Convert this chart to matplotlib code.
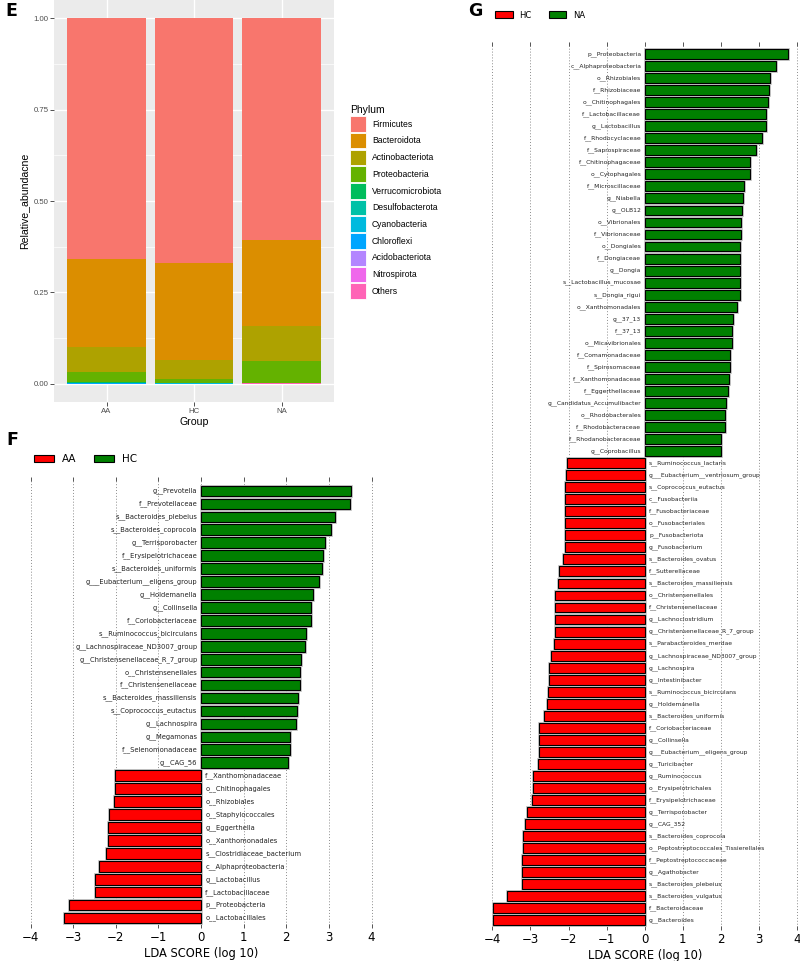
import numpy as np
import matplotlib
matplotlib.use('Agg')
import matplotlib.pyplot as plt
from matplotlib.patches import Patch
import matplotlib.patheffects as pe
from matplotlib.transforms import offset_copy

# ---------------- Panel E data ----------------
groups = ['AA', 'HC', 'NA']
phyla = ['Firmicutes', 'Bacteroidota', 'Actinobacteriota', 'Proteobacteria',
         'Verrucomicrobiota', 'Desulfobacterota', 'Cyanobacteria', 'Chloroflexi',
         'Acidobacteriota', 'Nitrospirota', 'Others']
abund_AA = [0.659, 0.240, 0.069, 0.027, 0.003, 0.001, 0.0003, 0.0001, 0.0001, 0.0001, 0.0004]
abund_HC = [0.671, 0.265, 0.050, 0.012, 0.0008, 0.0004, 0.0002, 0.0001, 0.0001, 0.0001, 0.0003]
abund_NA = [0.606, 0.237, 0.094, 0.060, 0.0005, 0.0003, 0.0002, 0.0002, 0.0001, 0.0002, 0.0015]
phylum_colors = ['#F8766D', '#DB8E00', '#AEA200', '#64B200', '#00BD5C', '#00C1A7',
                 '#00BADE', '#00A6FF', '#B385FF', '#EF67EB', '#FF63B6']

# ---------------- Panel F data (AA vs HC) ----------------
f_hc_taxa = ['g__Prevotella', 'f__Prevotellaceae', 's__Bacteroides_plebeius',
             's__Bacteroides_coprocola', 'g__Terrisporobacter', 'f__Erysipelotrichaceae',
             's__Bacteroides_uniformis', 'g___Eubacterium__eligens_group', 'g__Holdemanella',
             'g__Collinsella', 'f__Coriobacteriaceae', 's__Ruminococcus_bicirculans',
             'g__Lachnospiraceae_ND3007_group', 'g__Christensenellaceae_R_7_group',
             'o__Christensenellales', 'f__Christensenellaceae', 's__Bacteroides_massiliensis',
             's__Coprococcus_eutactus', 'g__Lachnospira', 'g__Megamonas',
             'f__Selenomonadaceae', 'g__CAG_56']
f_hc_scores = [3.51, 3.49, 3.15, 3.06, 2.92, 2.86, 2.85, 2.77, 2.63, 2.59, 2.59, 2.46,
               2.45, 2.34, 2.33, 2.33, 2.27, 2.25, 2.23, 2.09, 2.09, 2.04]
f_aa_taxa = ['f__Xanthomonadaceae', 'o__Chitinophagales', 'o__Rhizobiales',
             'o__Staphylococcales', 'g__Eggerthella', 'o__Xanthomonadales',
             's__Clostridiaceae_bacterium', 'c__Alphaproteobacteria', 'g__Lactobacillus',
             'f__Lactobacillaceae', 'p__Proteobacteria', 'o__Lactobacillales']
f_aa_scores = [-2.02, -2.02, -2.05, -2.16, -2.18, -2.18, -2.23, -2.40, -2.49, -2.49,
               -3.09, -3.21]

# ---------------- Panel G data (HC vs NA) ----------------
g_na_taxa = ['p__Proteobacteria', 'c__Alphaproteobacteria', 'o__Rhizobiales',
             'f__Rhizobiaceae', 'o__Chitinophagales', 'f__Lactobacillaceae',
             'g__Lactobacillus', 'f__Rhodocyclaceae', 'f__Saprospiraceae',
             'f__Chitinophagaceae', 'o__Cytophagales', 'f__Microscillaceae', 'g__Niabella',
             'g__OLB12', 'o__Vibrionales', 'f__Vibrionaceae', 'o__Dongiales',
             'f__Dongiaceae', 'g__Dongia', 's__Lactobacillus_mucosae', 's__Dongia_rigui',
             'o__Xanthomonadales', 'g__37_13', 'f__37_13', 'o__Micavibrionales',
             'f__Comamonadaceae', 'f__Spirosomaceae', 'f__Xanthomonadaceae',
             'f__Eggerthellaceae', 'g__Candidatus_Accumulibacter', 'o__Rhodobacterales',
             'f__Rhodobacteraceae', 'f__Rhodanobacteraceae', 'g__Coprobacillus']
g_na_scores = [3.75, 3.44, 3.28, 3.26, 3.25, 3.19, 3.19, 3.08, 2.91, 2.77, 2.77, 2.61,
               2.59, 2.56, 2.54, 2.54, 2.51, 2.51, 2.51, 2.51, 2.49, 2.42, 2.32, 2.29,
               2.28, 2.25, 2.25, 2.21, 2.20, 2.14, 2.10, 2.10, 2.01, 2.01]
g_hc_taxa = ['s__Ruminococcus_lactaris', 'g___Eubacterium__ventriosum_group',
             's__Coprococcus_eutactus', 'c__Fusobacteriia', 'f__Fusobacteriaceae',
             'o__Fusobacteriales', 'p__Fusobacteriota', 'g__Fusobacterium',
             's__Bacteroides_ovatus', 'f__Sutterellaceae', 's__Bacteroides_massiliensis',
             'o__Christensenellales', 'f__Christensenellaceae', 'g__Lachnoclostridium',
             'g__Christensenellaceae_R_7_group', 's__Parabacteroides_merdae',
             'g__Lachnospiraceae_ND3007_group', 'g__Lachnospira', 'g__Intestinibacter',
             's__Ruminococcus_bicirculans', 'g__Holdemanella', 's__Bacteroides_uniformis',
             'f__Coriobacteriaceae', 'g__Collinsella', 'g___Eubacterium__eligens_group',
             'g__Turicibacter', 'g__Ruminococcus', 'o__Erysipelotrichales',
             'f__Erysipelotrichaceae', 'g__Terrisporobacter', 'g__CAG_352',
             's__Bacteroides_coprocola', 'o__Peptostreptococcales_Tissierellales',
             'f__Peptostreptococcaceae', 'g__Agathobacter', 's__Bacteroides_plebeius',
             's__Bacteroides_vulgatus', 'f__Bacteroidaceae', 'g__Bacteroides']
g_hc_scores = [-2.05, -2.07, -2.08, -2.10, -2.10, -2.10, -2.10, -2.10, -2.15, -2.24,
               -2.28, -2.35, -2.35, -2.35, -2.35, -2.39, -2.47, -2.50, -2.52, -2.53,
               -2.57, -2.65, -2.77, -2.77, -2.78, -2.80, -2.93, -2.93, -2.95, -3.08,
               -3.15, -3.19, -3.19, -3.21, -3.21, -3.22, -3.62, -3.99, -3.99]

W, H = 800, 961
fig = plt.figure(figsize=(W / 100, H / 100), dpi=100)


def fig_rect(x0, y0, x1, y1):
    """pixel box (top-left origin) -> figure fraction rect"""
    return [x0 / W, 1 - y1 / H, (x1 - x0) / W, (y1 - y0) / H]


# ================= Panel E =================
axE = fig.add_axes(fig_rect(54, 0, 334, 402))
axE.set_facecolor('#EBEBEB')
data = np.array([abund_AA, abund_HC, abund_NA])  # groups x phyla
xpos = np.arange(1, len(groups) + 1)
bottom = np.zeros(len(groups))
for j in range(len(phyla) - 1, -1, -1):
    axE.bar(xpos, data[:, j], width=0.9, bottom=bottom, color=phylum_colors[j],
            edgecolor='none', zorder=3)
    bottom = bottom + data[:, j]
axE.set_xlim(0.4, 3.6)
axE.set_ylim(-0.05, 1.05)
axE.set_yticks([0, 0.25, 0.5, 0.75, 1.0])
axE.set_yticklabels(['0.00', '0.25', '0.50', '0.75', '1.00'])
axE.set_yticks([0.125, 0.375, 0.625, 0.875], minor=True)
axE.set_xticks(xpos)
axE.set_xticklabels(groups)
axE.grid(which='major', color='white', lw=1.0, zorder=0)
axE.grid(which='minor', axis='y', color='white', lw=0.5, zorder=0)
for s in axE.spines.values():
    s.set_visible(False)
axE.tick_params(axis='both', which='major', length=2.6, width=0.6, color='#333333',
                labelcolor='#4D4D4D', labelsize=5.6, pad=1.5)
axE.tick_params(axis='y', which='minor', length=0)
for t in axE.get_xticklabels() + axE.get_yticklabels():
    t.set_family('Liberation Sans')
axE.set_ylabel('Relative_abundacne', fontsize=7.6, family='Liberation Sans')
axE.yaxis.set_label_coords(-0.089, 0.5)
axE.set_xlabel('Group', fontsize=7.6, family='Liberation Sans')
axE.xaxis.set_label_coords(0.5, -0.037)

handlesE = [Patch(facecolor=c, edgecolor='white', lw=0.6, label=p)
            for p, c in zip(phyla, phylum_colors)]
legE = fig.legend(handles=handlesE, title='Phylum', loc='upper left',
                  bbox_to_anchor=(350 / W, 1 - 105 / H), bbox_transform=fig.transFigure,
                  frameon=False, title_fontsize=7.5, handlelength=1.85,
                  handleheight=2.43, labelspacing=0.12, handletextpad=0.7,
                  borderpad=0, borderaxespad=0, alignment='left',
                  prop={'family': 'Liberation Sans', 'size': 6.2})
legE.get_title().set_family('Liberation Sans')


# ================= LEfSe panels =================
def lefse(ax, taxa, scores, colors, label_fs, ymin, ymax):
    y = np.arange(len(taxa))
    bars = ax.barh(y, scores, height=0.82, color=colors, edgecolor='black',
                   linewidth=0.8, zorder=3)
    for b in bars:
        b.set_path_effects([pe.Stroke(linewidth=2.0, foreground='#c4c4c4'), pe.Normal()])
    tr_pos = offset_copy(ax.transData, fig=fig, x=-3.6, y=0, units='dots')
    tr_neg = offset_copy(ax.transData, fig=fig, x=4.3, y=0, units='dots')
    for yi, t, s in zip(y, taxa, scores):
        if s > 0:
            ax.text(0, yi, t, ha='right', va='center', fontsize=label_fs,
                    color='#222222', transform=tr_pos)
        else:
            ax.text(0, yi, t, ha='left', va='center', fontsize=label_fs,
                    color='#222222', transform=tr_neg)
    ax.set_xlim(-4.05, 4.05)
    ax.set_ylim(ymax, ymin)
    ax.set_xticks(np.arange(-4, 5))
    ax.set_yticks([])
    ax.grid(axis='x', linestyle=(0, (1, 2)), color='#8c8c8c', lw=0.7, zorder=0)
    for s in ax.spines.values():
        s.set_visible(False)
    ax.tick_params(axis='x', top=True, bottom=True, direction='in', length=3,
                   width=0.7, color='#555555', labelsize=8.5, pad=2.5)
    ax.set_xlabel('LDA SCORE (log 10)', fontsize=8.3, labelpad=2)


# Panel F
f_taxa = f_hc_taxa + f_aa_taxa
f_scores = f_hc_scores + f_aa_scores
f_colors = ['#008000'] * len(f_hc_taxa) + ['#FF0000'] * len(f_aa_taxa)
unitF = (372 - 31) / 8.0
x0F = 201 - 4.05 * unitF
axF = fig.add_axes(fig_rect(x0F, 477, x0F + 8.1 * unitF, 928))
lefse(axF, f_taxa, f_scores, f_colors, 4.85, -1.08, 33.77)
legF = fig.legend(handles=[Patch(facecolor='#FF0000', edgecolor='black', lw=0.8, label='AA'),
                           Patch(facecolor='#008000', edgecolor='black', lw=0.8, label='HC')],
                  loc='center left', bbox_to_anchor=(34 / W, 1 - 459 / H),
                  bbox_transform=fig.transFigure, ncol=2, frameon=False, fontsize=7.5,
                  handlelength=1.92, handleheight=0.67, handletextpad=0.75,
                  columnspacing=1.7, borderpad=0, borderaxespad=0)

# Panel G
g_taxa = g_na_taxa + g_hc_taxa
g_scores = g_na_scores + g_hc_scores
g_colors = ['#008000'] * len(g_na_taxa) + ['#FF0000'] * len(g_hc_taxa)
unitG = (797 - 492.3) / 8.0
x0G = 644.7 - 4.05 * unitG
axG = fig.add_axes(fig_rect(x0G, 42, x0G + 8.1 * unitG, 930))
lefse(axG, g_taxa, g_scores, g_colors, 4.3, -1.0, 72.8)
legG = fig.legend(handles=[Patch(facecolor='#FF0000', edgecolor='black', lw=0.8, label='HC'),
                           Patch(facecolor='#008000', edgecolor='black', lw=0.8, label='NA')],
                  loc='center left', bbox_to_anchor=(495 / W, 1 - 15 / H),
                  bbox_transform=fig.transFigure, ncol=2, frameon=False, fontsize=6.0,
                  handlelength=2.15, handleheight=0.8, handletextpad=0.8,
                  columnspacing=2.0, borderpad=0, borderaxespad=0)

# Panel letters
fig.text(5 / W, 1 - 10.5 / H, 'E', fontsize=12.5, fontweight='bold', va='center', ha='left')
fig.text(6 / W, 1 - 440 / H, 'F', fontsize=12.5, fontweight='bold', va='center', ha='left')
fig.text(468 / W, 1 - 11 / H, 'G', fontsize=12.5, fontweight='bold', va='center', ha='left')

fig.savefig('out.png', dpi=100, facecolor='white')
